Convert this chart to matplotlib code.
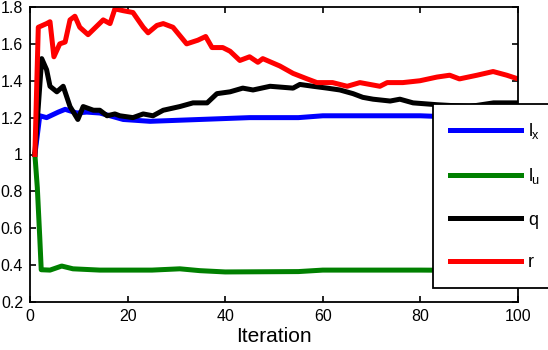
import numpy as np
import matplotlib
matplotlib.use("Agg")
import matplotlib.pyplot as plt

plt.rcParams['font.family'] = ['Liberation Sans', 'DejaVu Sans']
plt.rcParams['mathtext.fontset'] = 'custom'
plt.rcParams['mathtext.rm'] = 'Liberation Sans'
plt.rcParams['mathtext.it'] = 'Liberation Sans'

# data (iteration, value)
lx_x = [1, 2, 3.4, 5.8, 7.2, 9.6, 11.6, 14.3, 16.4, 19.1, 24.6, 34.8, 45, 55, 60, 70, 80, 90, 100]
lx_y = [1.0, 1.21, 1.20, 1.23, 1.245, 1.225, 1.23, 1.225, 1.21, 1.19, 1.18, 1.19, 1.20,
        1.20, 1.21, 1.21, 1.21, 1.20, 1.19]

lu_x = [1, 1.5, 2.0, 2.3, 4.1, 6.5, 8.8, 14.3, 25, 30.7, 34.8, 40, 55, 60, 80, 100]
lu_y = [1.0, 0.82, 0.55, 0.375, 0.373, 0.395, 0.38, 0.373, 0.373, 0.38, 0.37, 0.363,
        0.365, 0.373, 0.373, 0.37]

q_x = [1, 2.4, 3.4, 4.1, 5.5, 6.8, 8.2, 9.8, 10.9, 13, 14.3, 15.8, 17.4, 18.4, 21.1, 23.2,
       25.2, 27.3, 30.7, 33.4, 36.3, 37.5, 38.3, 41, 43.6, 45.7, 49.2, 53.9, 55.3, 58, 60.9,
       63.5, 66.2, 68.2, 70.3, 73.8, 75.8, 78.5, 83.4, 90, 95, 100]
q_y = [1.0, 1.52, 1.46, 1.37, 1.34, 1.37, 1.26, 1.19, 1.26, 1.24, 1.24, 1.21, 1.22, 1.21,
       1.20, 1.22, 1.21, 1.24, 1.26, 1.28, 1.28, 1.31, 1.33, 1.34, 1.36, 1.35, 1.37, 1.36,
       1.38, 1.37, 1.36, 1.35, 1.33, 1.31, 1.30, 1.29, 1.30, 1.28, 1.27, 1.26, 1.28, 1.28]

r_x = [1, 1.7, 3.4, 4.1, 4.9, 6.1, 7.2, 8.2, 9.2, 10.2, 11.9, 15, 16.4, 17.4, 19.1, 21.1,
       23.2, 24.2, 26, 27.3, 29.3, 32.1, 34.4, 36, 37.3, 39.5, 41, 43, 45, 46.7, 47.7, 51.2,
       53.9, 56.8, 58.8, 62, 65, 67.6, 71.7, 73.2, 76.4, 79.9, 83.4, 86, 88, 91.6, 94.9,
       97.7, 100]
r_y = [1.0, 1.69, 1.71, 1.72, 1.53, 1.60, 1.61, 1.73, 1.75, 1.69, 1.65, 1.73, 1.71, 1.79,
       1.78, 1.77, 1.69, 1.66, 1.70, 1.71, 1.69, 1.60, 1.62, 1.64, 1.58, 1.58, 1.56, 1.51,
       1.53, 1.50, 1.52, 1.48, 1.44, 1.41, 1.39, 1.39, 1.37, 1.39, 1.37, 1.39, 1.39, 1.40,
       1.42, 1.43, 1.41, 1.43, 1.45, 1.43, 1.41]

yticks = [0.2, 0.4, 0.6, 0.8, 1.0, 1.2, 1.4, 1.6, 1.8]
ytick_labels = ['0.2', '0.4', '0.6', '0.8', '1', '1.2', '1.4', '1.6', '1.8']
xticks = [0, 20, 40, 60, 80, 100]

fig = plt.figure(figsize=(5.48, 3.5), dpi=100)
ax = fig.add_axes([30 / 548, 48 / 350, 488 / 548, 295 / 350])

lw = 3.6
ax.plot(lx_x, lx_y, color='#0000ff', lw=lw, label='$l_x$')
ax.plot(lu_x, lu_y, color='#008000', lw=lw, label='$l_u$')
ax.plot(q_x, q_y, color='black', lw=lw, label='q')
ax.plot(r_x, r_y, color='#ff0000', lw=lw, label='r')

ax.set_xlim(0, 100)
ax.set_ylim(0.2, 1.8)
ax.set_xticks(xticks)
ax.set_yticks(yticks)
ax.set_yticklabels(ytick_labels)
ax.tick_params(direction='in', top=True, right=True, length=4, width=1.2,
               labelsize=11.5, pad=5)
for s in ax.spines.values():
    s.set_linewidth(1.3)
ax.set_xlabel('Iteration', fontsize=15, labelpad=2)

leg = fig.legend(loc='upper left', bbox_to_anchor=(433 / 548, 1 - 104 / 350),
                 borderaxespad=0, fontsize=13, handlelength=3.9, handletextpad=0.4,
                 labelspacing=1.4, borderpad=0.95, fancybox=False, framealpha=1,
                 edgecolor='black')
leg.get_frame().set_linewidth(1.3)

fig.savefig('out.png', dpi=100)
